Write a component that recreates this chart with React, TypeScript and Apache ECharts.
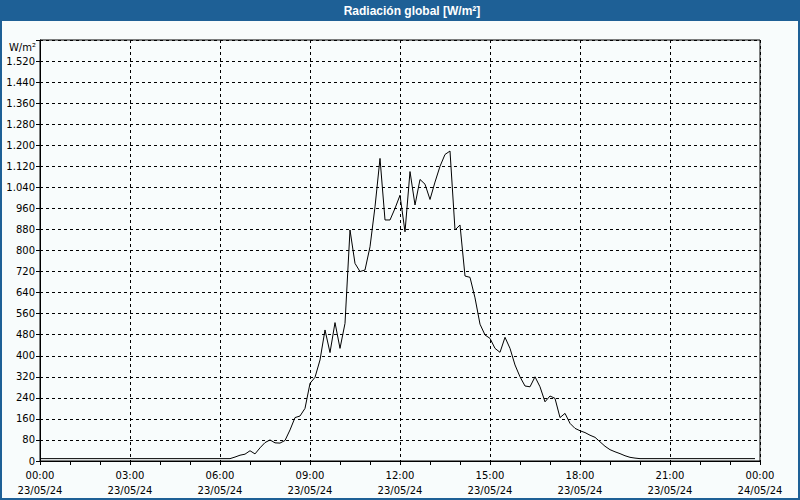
import React, { useEffect, useRef } from "react";
import * as echarts from "echarts";

const TITLE = "Radiación global [W/m²]";
const UNIT = "W/m²";
const DATE_LABELS = ["23/05/24", "24/05/24"];
const STEP_MINUTES = 10;

// Global radiation readings every 10 minutes, 00:00 .. 23:50 (W/m²)
const NIGHT_BEFORE = [
  9, 9, 9, 9, 9, 9, 9, 9, 9, 9, 9, 9, 9, 9, 9, 9, 9, 9, 9,
  9, 9, 9, 9, 9, 9, 9, 9, 9, 9, 9, 9, 9, 9, 9, 9, 9, 9, 9,
];
const DAY_VALUES = [
  9, 15, 22, 26, 39, 27, 50, 70, 80, 69,
  68, 78, 118, 165, 171, 200, 295, 318, 384, 498,
  412, 526, 428, 523, 878, 751, 720, 726, 814, 966,
  1150, 916, 916, 960, 1010, 871, 1100, 973, 1070, 1052,
  994, 1060, 1120, 1165, 1178, 878, 897, 703, 698, 620,
  520, 479, 466, 428, 413, 470, 428, 365, 320, 285,
  282, 320, 282, 225, 247, 238, 165, 181, 143, 124,
  115, 108, 98, 90, 73, 56, 43, 35, 28, 20,
  14, 11, 9,
];
const NIGHT_AFTER = [
  9, 9, 9, 9, 9, 9, 9, 9, 9, 9, 9, 9, 9, 9, 9, 9, 9, 9, 9, 9, 9, 9, 9,
];

const Y_MAX = 1600;
const Y_STEP = 80;
const X_STEP_HOURS = 3;

const FONT = "DejaVu Sans";
const BLUE = "#1E6096";

function fmtThousands(v: number): string {
  return String(v).replace(/\B(?=(\d{3})+(?!\d))/g, ".");
}

export default function App() {
  const ref = useRef<HTMLDivElement | null>(null);

  useEffect(() => {
    if (!ref.current) return;
    const chart = echarts.init(ref.current, null, { renderer: "svg" });
    const values = [...NIGHT_BEFORE, ...DAY_VALUES, ...NIGHT_AFTER];
    const data = values.map((v, i) => [(i * STEP_MINUTES) / 60, v]);

    chart.setOption({
      animation: false,
      backgroundColor: "#F8FCFC",
      graphic: [
        {
          type: "rect",
          shape: { x: 0, y: 0, width: 800, height: 21 },
          style: { fill: BLUE },
          silent: true,
        },
        {
          type: "rect",
          shape: { x: 1, y: 1, width: 798, height: 498 },
          style: { fill: "none", stroke: BLUE, lineWidth: 2 },
          silent: true,
        },
        {
          type: "text",
          x: 412,
          y: 11,
          style: {
            text: TITLE,
            fill: "#FFFFFF",
            font: "bold 12px 'Liberation Sans'",
            textAlign: "center",
            textVerticalAlign: "middle",
          },
        },
        {
          type: "text",
          x: 36,
          y: 47,
          style: {
            text: UNIT,
            fill: "#000000",
            font: "10px 'DejaVu Sans'",
            textAlign: "right",
            textVerticalAlign: "middle",
          },
        },
      ],
      grid: {
        left: 40,
        right: 40,
        top: 40,
        bottom: 39,
        show: true,
        borderColor: "#000000",
        borderWidth: 1,
        backgroundColor: "transparent",
      },
      xAxis: {
        type: "value",
        min: 0,
        max: 24,
        interval: X_STEP_HOURS,
        axisLine: { show: true, lineStyle: { color: "#000000", width: 1 } },
        axisTick: { show: true, inside: false, length: 4, lineStyle: { color: "#000000" } },
        minorTick: { show: true, splitNumber: 3, length: 4, lineStyle: { color: "#000000" } },
        splitLine: {
          show: true,
          lineStyle: { color: "#000000", type: [3, 3], width: 1 },
        },
        axisLabel: {
          color: "#000000",
          fontFamily: FONT,
          fontSize: 10,
          lineHeight: 15,
          margin: 7,
          formatter: (h: number) => {
            const hh = String(h % 24).padStart(2, "0");
            const date = h >= 24 ? DATE_LABELS[1] : DATE_LABELS[0];
            return `${hh}:00\n${date}`;
          },
        },
      },
      yAxis: {
        type: "value",
        min: 0,
        max: Y_MAX,
        interval: Y_STEP,
        axisLine: { show: true, lineStyle: { color: "#000000", width: 1 } },
        axisTick: { show: true, inside: false, length: 4, lineStyle: { color: "#000000" } },
        splitLine: {
          show: true,
          lineStyle: { color: "#000000", type: [3, 3], width: 1 },
        },
        axisLabel: {
          color: "#000000",
          fontFamily: FONT,
          fontSize: 10,
          margin: 5,
          formatter: (v: number) => (v >= Y_MAX ? "" : fmtThousands(v)),
        },
      },
      series: [
        {
          type: "line",
          data,
          showSymbol: false,
          symbol: "none",
          lineStyle: { color: "#000000", width: 1 },
          silent: true,
        },
      ],
    });
    return () => chart.dispose();
  }, []);

  return (
    <div
      ref={ref}
      style={{ position: "fixed", left: 0, top: 0, width: 800, height: 500 }}
    />
  );
}
